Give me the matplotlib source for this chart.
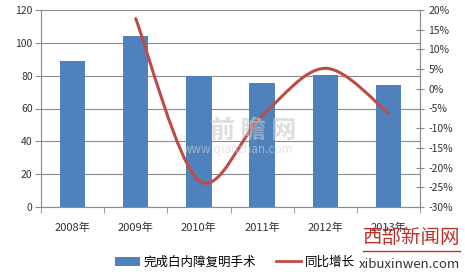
import matplotlib
matplotlib.use("Agg")
import matplotlib.pyplot as plt
from matplotlib.path import Path
from matplotlib.patches import PathPatch
from matplotlib.lines import Line2D
from matplotlib.patches import Patch
import numpy as np

plt.rcParams['font.family'] = ['Noto Sans CJK SC', 'DejaVu Sans']

years = ['2008年', '2009年', '2010年', '2011年', '2012年', '2013年']
surgeries = [89, 104, 80, 75.5, 80.5, 74.5]          # 万例
growth_years_idx = [1, 2, 3, 4, 5]
growth = [17.8, -23.3, -6.8, 5.2, -6.2]              # %
bar_label = '完成白内障复明手术'
line_label = '同比增长'
left_ticks = [0, 20, 40, 60, 80, 100, 120]
right_ticks = [20, 15, 10, 5, 0, -5, -10, -15, -20, -25, -30]

bar_color = '#4F81BD'
line_color = '#BE4B48'
grid_color = '#8C8C8C'
text_color = '#333333'

fig = plt.figure(figsize=(4.65, 2.75), dpi=100)
ax = fig.add_axes([41/465, 1-207/275, (420-41)/465, (207-10)/275])
x = np.arange(len(years))
ax.bar(x, surgeries, width=0.4, color=bar_color, zorder=3)
ax.set_xlim(-0.5, len(years)-0.5)
ax.set_ylim(0, 120)
ax.set_yticks(left_ticks)
ax.set_yticklabels([str(t) for t in left_ticks], fontsize=7.5, color=text_color)
ax.yaxis.grid(True, color=grid_color, linewidth=0.8, zorder=0)
ax.set_xticks(x)
ax.set_xticklabels(years, fontsize=8, color=text_color)
ax.tick_params(axis='x', length=0, pad=11)
ax.set_xticks(np.arange(-0.5, len(years)), minor=True)
ax.tick_params(axis='x', which='minor', length=4, color=grid_color)
ax.tick_params(axis='y', length=4, color=grid_color, pad=2)
ax.spines['top'].set_visible(False)
for s in ['left', 'bottom', 'right']:
    ax.spines[s].set_color(grid_color)
    ax.spines[s].set_linewidth(0.8)

ax2 = ax.twinx()
ax2.set_ylim(-30, 20)
ax2.set_yticks(right_ticks)
ax2.set_yticklabels([f'{t}%' for t in right_ticks], fontsize=7.5, color=text_color)
ax2.tick_params(axis='y', direction='inout', length=6, color=grid_color, pad=3)
for s in ['top', 'left', 'bottom']:
    ax2.spines[s].set_visible(False)
ax2.spines['right'].set_color(grid_color)
ax2.spines['right'].set_linewidth(0.8)

# smoothed line (Catmull-Rom as Bezier, like Excel smoothing)
px = np.array(growth_years_idx, dtype=float)
py = np.array(growth, dtype=float)
n = len(px)
verts = [(px[0], py[0])]
codes = [Path.MOVETO]
for i in range(n-1):
    p0 = (px[max(i-1, 0)], py[max(i-1, 0)])
    p1 = (px[i], py[i])
    p2 = (px[i+1], py[i+1])
    p3 = (px[min(i+2, n-1)], py[min(i+2, n-1)])
    c1 = (p1[0] + (p2[0]-p0[0])/6, p1[1] + (p2[1]-p0[1])/6)
    c2 = (p2[0] - (p3[0]-p1[0])/6, p2[1] - (p3[1]-p1[1])/6)
    verts += [c1, c2, p2]
    codes += [Path.CURVE4]*3
ax2.add_patch(PathPatch(Path(verts, codes), facecolor='none', edgecolor=line_color,
                        linewidth=2.2, zorder=5, capstyle='round'))

# watermark
fig.text(0.545, 0.525, '前 瞻 网', fontsize=18, color='#C8C8C8', alpha=0.6,
         ha='center', va='center', fontweight='bold')
fig.text(0.512, 0.455, 'www.qianzhan.com', fontsize=8.5, color='#D5D5D5', alpha=0.6,
         ha='center', va='center')

handles = [Patch(facecolor=bar_color, edgecolor='none'),
           Line2D([0], [0], color=line_color, linewidth=2.0)]
fig.legend(handles, [bar_label, line_label], loc='center', bbox_to_anchor=(0.505, 0.047),
           ncol=2, frameon=False, fontsize=9, handlelength=2.0, handleheight=0.7,
           columnspacing=1.6, handletextpad=0.3)

fig.text(0.99, 0.135, '西部新闻网', fontsize=14, color='#C0302A', ha='right', va='center')
fig.add_artist(Line2D([0.78, 0.99], [0.088, 0.088], color='#C0302A', linewidth=1.0))
fig.text(0.99, 0.04, 'xibuxinwen.com', fontsize=9.5, color='#333333', ha='right', va='center')

fig.savefig('out.png', dpi=100)
